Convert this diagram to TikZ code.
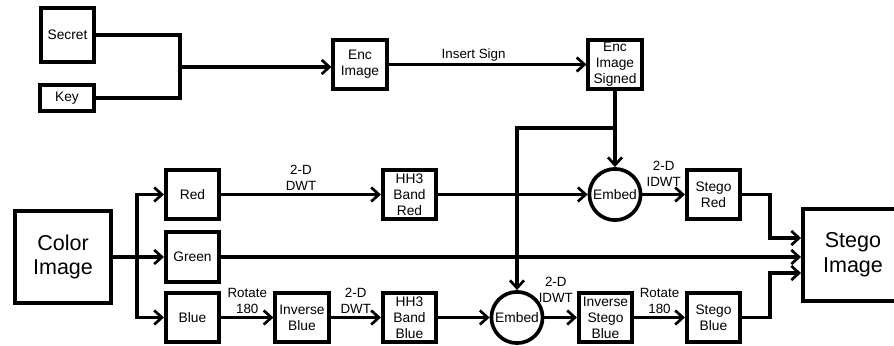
\documentclass[tikz,border=0pt]{standalone}
\usepackage{fontspec}
\setmainfont{Liberation Sans}
\usetikzlibrary{arrows.meta}

\tikzset{
    blk/.style={draw, line width=2.8pt, minimum width=1.33cm, minimum height=1.23cm,
        align=center, inner sep=1pt, font=\fontsize{9.8}{11.3}\selectfont},
    bigblk/.style={blk, minimum width=2.4cm, minimum height=2.3cm,
        font=\fontsize{15.3}{17.5}\selectfont},
    embednode/.style={draw, circle, line width=2.6pt, minimum size=1.28cm, inner sep=0pt,
        font=\fontsize{9.8}{11.3}\selectfont},
    wire/.style={line width=2.4pt},
    arr/.style={wire, -{Straight Barb[length=5.5pt,width=10pt,line width=1.9pt]}},
    lbl/.style={align=center, inner sep=1.5pt, font=\fontsize{9.5}{11.3}\selectfont}
}

\begin{document}
\begin{tikzpicture}[x=0.025cm, y=-0.025cm]
    \useasboundingbox (0,0) rectangle (894,346);

    % key part
    \node[blk, minimum height=1.33cm] (secret) at (67.5,35) {Secret};
    \node[blk, minimum height=0.63cm] (key) at (67,98) {Key};
    \node[blk] (encimg) at (360,64.5) {Enc\\Image};
    \node[blk] (encsigned) at (615,64.5) {Enc\\Image\\Signed};

    \coordinate (join) at (180,67);
    \draw[wire] (secret.east) -| (join) |- (key.east);
    \draw[arr] (join) -- (encimg.west |- join);
    \draw[arr] (encimg) -- node[lbl, above=-0.5pt, pos=0.43] {Insert Sign} (encsigned);

    % colour channels
    \node[bigblk] (color) at (63,257) {Color\\Image};
    \node[blk] (red) at (192.5,194.5) {Red};
    \node[blk] (green) at (192.5,257) {Green};
    \node[blk] (blue) at (192.5,317.5) {Blue};

    \coordinate (split) at (137,257);
    \draw[wire] (color.east) -- (split);
    \draw[arr] (split) |- (red.west);
    \draw[arr] (split) -- (green.west);
    \draw[arr] (split) |- (blue.west);

    % red path
    \node[blk] (hhred) at (409.5,194.5) {HH3\\Band\\Red};
    \node[embednode] (embedred) at (615,194.5) {Embed};
    \node[blk] (stegored) at (713.5,194.5) {Stego\\Red};

    \draw[arr] (red) -- node[lbl, above] {2-D\\DWT} (hhred);
    \draw[arr] (hhred) -- (embedred);
    \draw[arr] (embedred) -- node[lbl, above=3pt] {2-D\\IDWT} (stegored);

    % blue path
    \node[blk] (invblue) at (302,317.5) {Inverse\\Blue};
    \node[blk] (hhblue) at (409.5,317.5) {HH3\\Band\\Blue};
    \node[embednode] (embedblue) at (517,317.5) {Embed};
    \node[blk] (invstego) at (605.5,317.5) {Inverse\\Stego\\Blue};
    \node[blk] (stegoblue) at (713.5,317.5) {Stego\\Blue};

    \draw[arr] (blue) -- node[lbl, above] {Rotate\\180} (invblue);
    \draw[arr] (invblue) -- node[lbl, above] {2-D\\DWT} (hhblue);
    \draw[arr] (hhblue) -- (embedblue);
    \draw[arr] (embedblue) -- node[lbl, above=8pt, pos=0.35] {2-D\\IDWT} (invstego);
    \draw[arr] (invstego) -- node[lbl, above] {Rotate\\180} (stegoblue);

    % signed image into both embeds
    \coordinate (branch) at (615,128);
    \draw[arr] (encsigned) -- (embedred);
    \draw[arr] (branch) -| (embedblue.north);

    % output
    \node[bigblk, minimum width=2.5cm] (stegoimg) at (853,255) {Stego\\Image};
    \coordinate (upin) at (770,238);
    \coordinate (lowin) at (770,273);
    \draw[arr] (stegored.east) -| (upin) -- (upin -| stegoimg.west);
    \draw[arr] (green.east) -- (green -| stegoimg.west);
    \draw[arr] (stegoblue.east) -| (lowin) -- (lowin -| stegoimg.west);
\end{tikzpicture}
\end{document}
